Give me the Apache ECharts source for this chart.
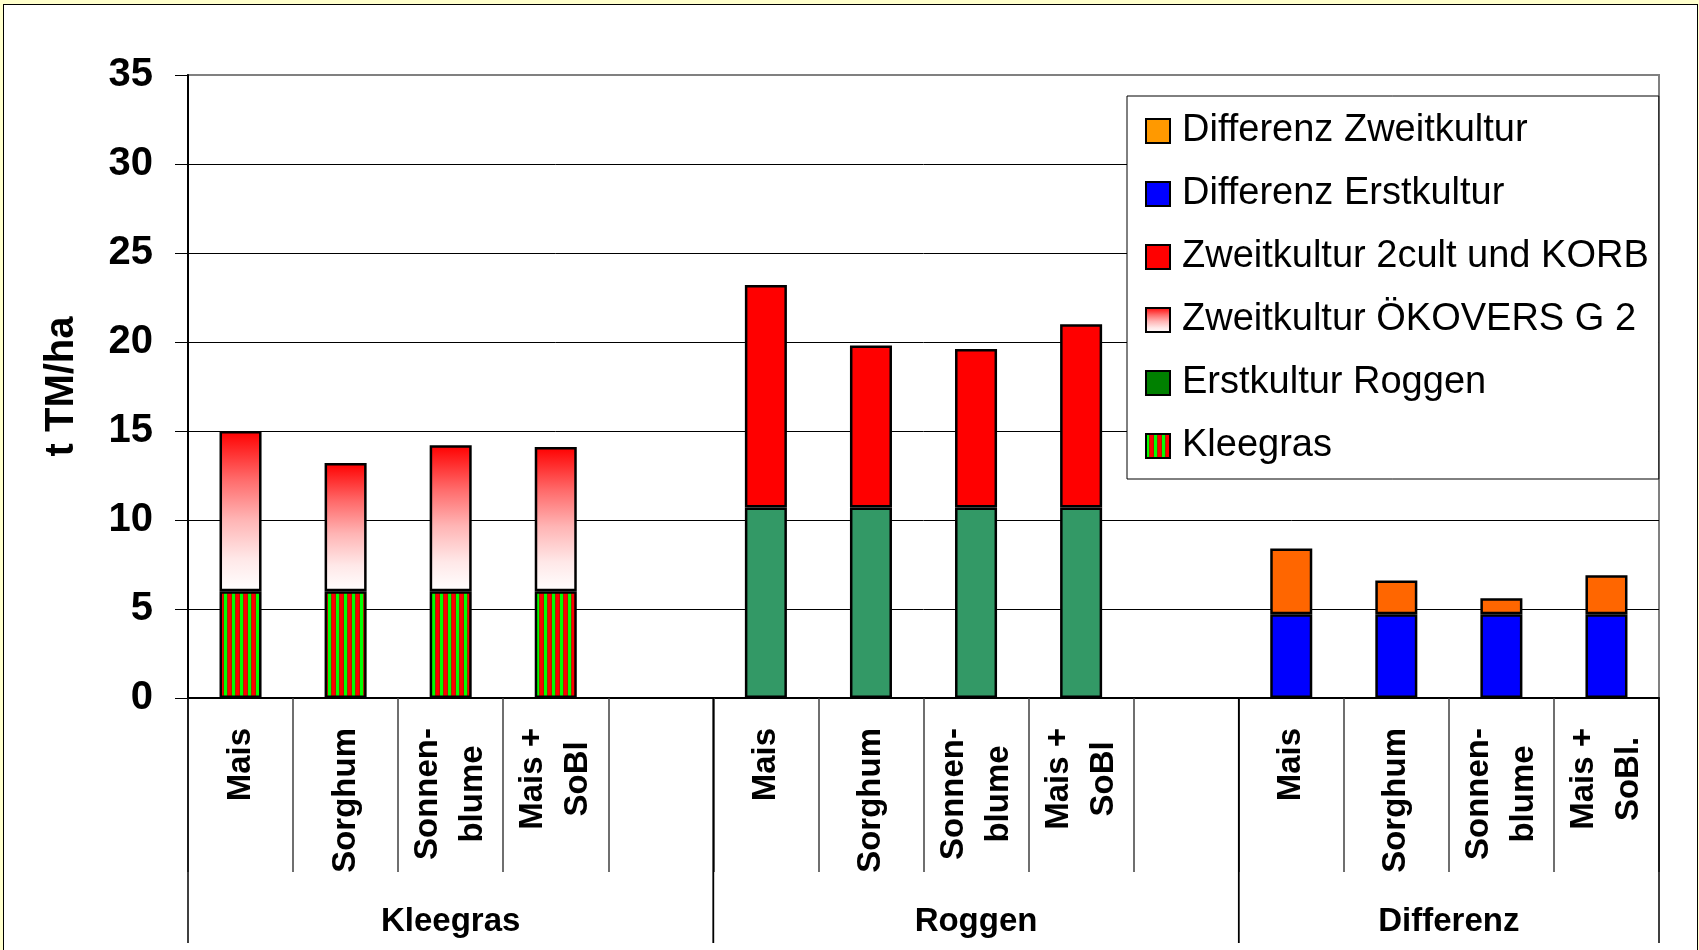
<!DOCTYPE html>
<html>
<head>
<meta charset="utf-8">
<script src="https://cdn.jsdelivr.net/npm/echarts@6/dist/echarts.min.js"></script>
<style>
  html, body { margin: 0; padding: 0; width: 1699px; height: 950px; overflow: hidden; background: #FFFFCC; }
  #frame { position: absolute; left: 3px; top: 4px; width: 1693px; height: 980px; background: #fff; border: 1px solid #000; }
  #chart { position: absolute; left: 0; top: 0; width: 1699px; height: 950px; }
</style>
</head>
<body>
<div id="frame"></div>
<div id="chart"></div>
<script>
// Categories along the x axis (groups Kleegras / Roggen / Differenz, each followed by a spacer slot)
const categories = [
  'Mais', 'Sorghum', 'Sonnen-\nblume', 'Mais +\nSoBl', '',
  'Mais', 'Sorghum', 'Sonnen-\nblume', 'Mais +\nSoBl', '',
  'Mais', 'Sorghum', 'Sonnen-\nblume', 'Mais +\nSoBl.'
];
const groupNames = ['Kleegras', 'Roggen', 'Differenz'];
const groupSizes = [5, 5, 4];

// y axis ticks (t TM/ha)
const yMin = 0, yMax = 35, yStep = 5;

// Series values (t TM/ha), one entry per category
const kleegras        = [6.0, 6.0, 6.0, 6.0, null, null, null, null, null, null, null, null, null, null];
const erstRoggen      = [null, null, null, null, null, 10.7, 10.7, 10.7, 10.7, null, null, null, null, null];
const diffErst        = [null, null, null, null, null, null, null, null, null, null, 4.7, 4.7, 4.7, 4.7];
const zweitOekovers   = [9.0, 7.2, 8.2, 8.1, null, null, null, null, null, null, null, null, null, null];
const zweit2cultKorb  = [null, null, null, null, null, 12.5, 9.1, 8.9, 10.3, null, null, null, null, null];
const diffZweit       = [null, null, null, null, null, null, null, null, null, null, 3.7, 1.9, 0.9, 2.2];

const FONT = '"Liberation Sans", Arial, Helvetica, sans-serif';

// Red/green vertical stripe fill for Kleegras
function stripeCanvas() {
  const c = document.createElement('canvas');
  c.width = 8; c.height = 8;
  const g = c.getContext('2d');
  const cols = ['#00FF00', '#00FF00', '#00FF00', '#A03000', '#FF0000', '#FF0000', '#FF0000', '#C01000'];
  cols.forEach((col, i) => { g.fillStyle = col; g.fillRect(i, 0, 1, 8); });
  return c;
}
const stripes = { image: stripeCanvas(), repeat: 'repeat' };

const redFade = {
  type: 'linear', x: 0, y: 0, x2: 0, y2: 1,
  colorStops: [
    { offset: 0, color: '#FF0000' },
    { offset: 0.3, color: '#FF6A6A' },
    { offset: 0.55, color: '#FFB4B4' },
    { offset: 0.8, color: '#FFE8E8' },
    { offset: 1, color: '#FFFFFF' }
  ]
};

const border = { borderColor: '#000', borderWidth: 2.5 };

function barSeries(name, data, color) {
  return {
    name, type: 'bar', stack: 'total', data,
    barWidth: '40%',
    itemStyle: Object.assign({ color }, border),
    emphasis: { disabled: true }
  };
}

// group ranges [startIndex, 0, endIndex]
const groupRanges = [];
{
  let s = 0;
  groupSizes.forEach(n => { groupRanges.push([s, 0, s + n]); s += n; });
}

const chart = echarts.init(document.getElementById('chart'), null, { renderer: 'canvas' });

chart.setOption({
  animation: false,
  backgroundColor: 'transparent',
  textStyle: { fontFamily: FONT },
  grid: {
    left: 188, right: 40, top: 75, bottom: 252,
    show: true, borderColor: '#808080', borderWidth: 2, backgroundColor: 'transparent'
  },
  legend: {
    orient: 'vertical',
    left: 1127, top: 96,
    padding: [15, 10, 13, 18],
    icon: 'rect',
    itemWidth: 24, itemHeight: 24, itemGap: 23,
    backgroundColor: '#fff',
    borderColor: '#000', borderWidth: 1,
    selectedMode: false,
    itemStyle: { borderColor: '#000', borderWidth: 2 },
    textStyle: { fontSize: 38, fontFamily: FONT, color: '#000', lineHeight: 40, padding: [0, 0, 0, 7] },
    data: [
      { name: 'Differenz Zweitkultur', itemStyle: { color: '#FF9900' } },
      { name: 'Differenz Erstkultur' },
      { name: 'Zweitkultur 2cult und KORB' },
      { name: 'Zweitkultur ÖKOVERS G 2' },
      { name: 'Erstkultur Roggen', itemStyle: { color: '#008000' } },
      { name: 'Kleegras' }
    ]
  },
  xAxis: {
    type: 'category',
    data: categories,
    axisLine: { show: true, lineStyle: { color: '#000', width: 2 } },
    axisTick: { show: true, interval: 0, length: 174, lineStyle: { color: '#404040', width: 1.5 } },
    axisLabel: {
      interval: 0, rotate: 90, margin: 30,
      formatter: v => v ? v.split('\n').map(s => '{c|' + s + '}').join('\n') : '',
      rich: { c: { fontSize: 33, fontWeight: 'bold', fontFamily: FONT, color: '#000', lineHeight: 45, align: 'center' } }
    },
    splitLine: { show: false }
  },
  yAxis: {
    type: 'value', min: yMin, max: yMax, interval: yStep,
    name: 't TM/ha', nameLocation: 'middle', nameRotate: 90, nameGap: 106,
    nameTextStyle: { fontSize: 40, fontWeight: 'bold', fontFamily: FONT, color: '#000' },
    axisLine: { show: true, lineStyle: { color: '#000', width: 2 } },
    axisTick: { show: true, length: 13, lineStyle: { color: '#000', width: 1 } },
    axisLabel: { fontSize: 40, fontWeight: 'bold', fontFamily: FONT, color: '#000', margin: 35 },
    splitLine: { show: true, showMaxLine: false, lineStyle: { color: '#000', width: 1 } }
  },
  series: [
    barSeries('Kleegras', kleegras, stripes),
    barSeries('Erstkultur Roggen', erstRoggen, '#339966'),
    barSeries('Differenz Erstkultur', diffErst, '#0000FF'),
    barSeries('Zweitkultur ÖKOVERS G 2', zweitOekovers, redFade),
    barSeries('Zweitkultur 2cult und KORB', zweit2cultKorb, '#FF0000'),
    barSeries('Differenz Zweitkultur', diffZweit, '#FF6600'),
    {
      // group separators and group titles below the category labels
      type: 'custom', silent: true, clip: false, z: 5,
      encode: { x: 0, y: 1 },
      data: groupRanges,
      renderItem: (params, api) => {
        const start = api.value(0), end = api.value(2);
        const bw = api.size([1, 0])[0];
        const p = api.coord([start, 0]);
        const x0 = p[0] - bw / 2;
        const x1 = api.coord([end - 1, 0])[0] + bw / 2;
        const y0 = p[1];
        return {
          type: 'group',
          children: [
            { type: 'line', shape: { x1: x0, y1: y0, x2: x0, y2: y0 + 245 }, style: { stroke: '#000', lineWidth: 1.5 } },
            { type: 'line', shape: { x1: x1, y1: y0, x2: x1, y2: y0 + 245 }, style: { stroke: '#000', lineWidth: 1.5 } },
            {
              type: 'text', x: (x0 + x1) / 2, y: y0 + 224,
              style: {
                text: groupNames[params.dataIndex], fontSize: 33, fontWeight: 'bold', fontFamily: FONT,
                fill: '#000', align: 'center', verticalAlign: 'middle'
              }
            }
          ]
        };
      }
    }
  ]
});
</script>
</body>
</html>
